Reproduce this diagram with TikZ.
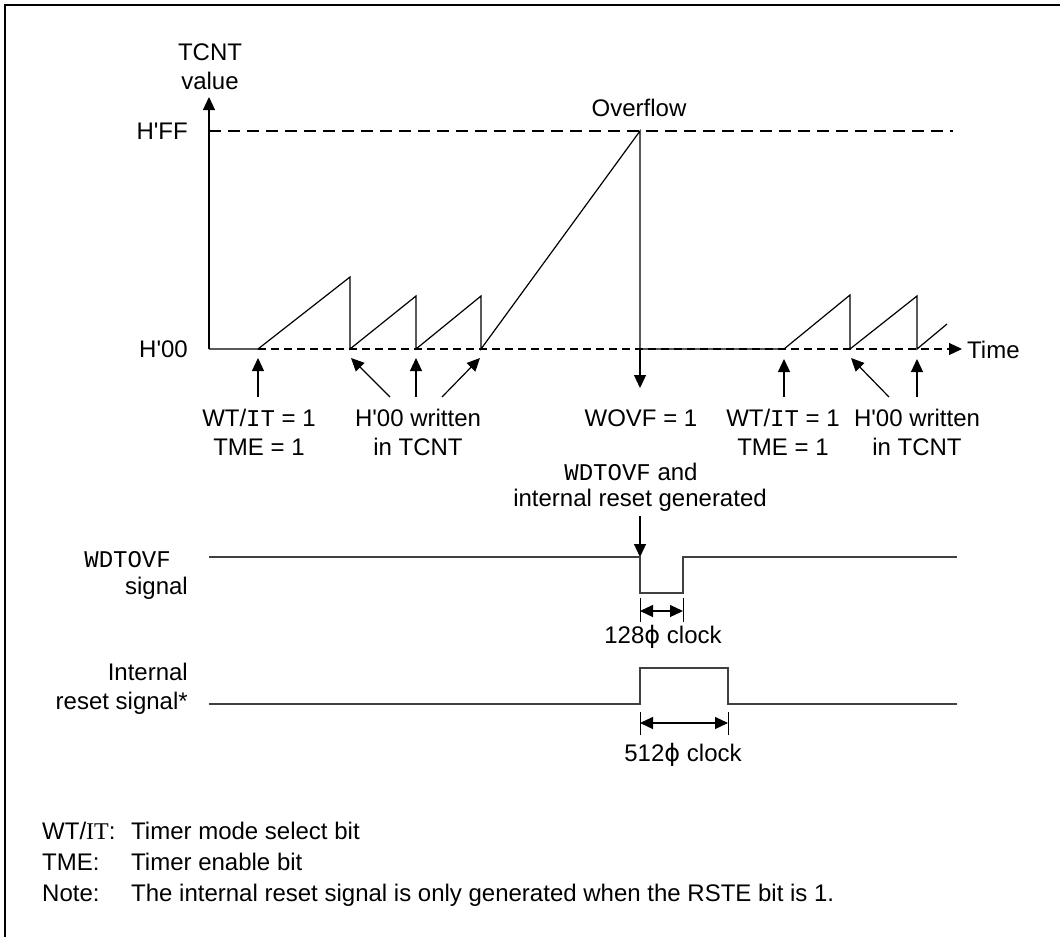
\documentclass[tikz,border=0pt]{standalone}
\usepackage{fontspec}
\newfontfamily\arialf{Liberation Sans}
\newfontfamily\monof{Liberation Mono}
\newfontfamily\serf{Liberation Serif}
\newfontfamily\dvs{DejaVu Sans}
\usetikzlibrary{arrows.meta}
\newcommand{\phisym}{{\dvs ϕ}}
\begin{document}
\begin{tikzpicture}[x=1pt,y=-1pt,
  txt/.style={font=\fontsize{24}{29}\selectfont\arialf, inner sep=0pt, align=center},
  ln/.style={line width=1.2pt},
  sig/.style={line width=1.8pt, draw=black!75},
  arr/.style={line width=1.2pt, -{Triangle[length=13pt,width=12pt]}},
  dimarr/.style={line width=1.2pt, {Triangle[length=13pt,width=12pt]}-{Triangle[length=13pt,width=12pt]}},
  dshl/.style={line width=1.2pt, dash pattern=on 12pt off 7pt},
  dshs/.style={line width=1.2pt, dash pattern=on 8pt off 5pt}]
\useasboundingbox (0,0) rectangle (1060,937);
\draw[ln] (5,937) -- (5,5) -- (1060,5);

% axes
\coordinate (O) at (209,349);
\coordinate (Ytop) at (209,97);
\draw[arr] (O) -- (Ytop);
\node[txt] (tcnt) at (210,67) {TCNT\\value};
\node[txt, anchor=east] (hff) at (188,131) {H'FF};
\node[txt, anchor=east] (h00) at (188,349) {H'00};
\coordinate (ffL) at (209,131);
\coordinate (ffR) at (953,131);
\draw[dshl] (ffL) -- (ffR);
\coordinate (bsA) at (258,349);
\coordinate (bsB) at (950,349);
\coordinate (bsC) at (962,349);
\draw[dshs] (bsA) -- (bsB);
\draw[arr] (949,349) -- (bsC);
\node[txt, anchor=west] (time) at (967,350) {Time};
\node[txt] (ovf) at (639,108) {Overflow};

% counter
\draw[ln] (O) -- (bsA) -- (350,277) -- (350,349) -- (416,296) -- (416,349)
  -- (481,296) -- (481,349) -- (640,131) -- (640,349) -- (784,349)
  -- (850,295) -- (850,349) -- (917,296) -- (917,349) -- (947,324);

% event arrows
\draw[arr] (258,397) -- (258,358);
\draw[arr] (390,397) -- (351,358);
\draw[arr] (416,397) -- (416,358);
\draw[arr] (442,397) -- (480,358);
\draw[arr] (640,349) -- (640,388);
\draw[arr] (784,397) -- (784,359);
\draw[arr] (889,397) -- (851,358);
\draw[arr] (917,397) -- (917,359);

\node[txt] (wt1) at (259,432) {WT/{\monof IT} = 1\\TME = 1};
\node[txt] (h1) at (418,432) {H'00 written\\in TCNT};
\node[txt] (wovf) at (641,418) {WOVF = 1};
\node[txt] (wt2) at (783,432) {WT/{\monof IT} = 1\\TME = 1};
\node[txt] (h2) at (917,432) {H'00 written\\in TCNT};
\node[txt] (gen1) at (631,472) {{\monof WDTOVF} and};
\node[txt] (gen2) at (640,500) {internal reset generated};
\coordinate (genA) at (640,516);
\coordinate (genB) at (640,557);
\draw[arr] (genA) -- (genB);

% WDTOVF signal
\node[txt, anchor=east] (wsig1) at (171,560) {\monof WDTOVF};
\node[txt, anchor=east] (wsig2) at (188,588) {signal};
\draw[sig] (209,557) -- (640,557) -- (640,593) -- (683,593) -- (683,557) -- (957,557);
\draw[line width=1pt] (640,598) -- (640,622) (683,598) -- (683,622);
\coordinate (d1a) at (640,611);
\coordinate (d1b) at (683,611);
\draw[dimarr] (d1a) -- (d1b);
\node[txt] (c128) at (663,637) {128\phisym{} clock};

% internal reset
\node[txt, anchor=east] (isig1) at (188,672) {Internal};
\node[txt, anchor=east] (isig2) at (188,703) {reset signal*};
\draw[sig] (209,704) -- (640,704) -- (640,668) -- (728,668) -- (728,704) -- (957,704);
\draw[line width=1pt] (640,712) -- (640,735) (728,712) -- (728,735);
\coordinate (d2a) at (640,723);
\coordinate (d2b) at (728,723);
\draw[dimarr] (d2a) -- (d2b);
\node[txt] (c512) at (683,755) {512\phisym{} clock};

% notes
\node[txt, anchor=base west] (n1a) at (42,839) {WT/{\serf IT}:};
\node[txt, anchor=base west] (n1b) at (131,839) {Timer mode select bit};
\node[txt, anchor=base west] (n2a) at (42,870) {TME:};
\node[txt, anchor=base west] (n2b) at (131,870) {Timer enable bit};
\node[txt, anchor=base west] (n3a) at (42,901) {Note:};
\node[txt, anchor=base west] (n3b) at (131,901) {The internal reset signal is only generated when the RSTE bit is 1.};
\end{tikzpicture}
\end{document}
